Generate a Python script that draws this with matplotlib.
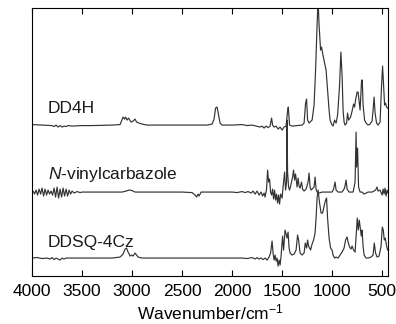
import matplotlib
matplotlib.use("Agg")
import matplotlib.pyplot as plt
import numpy as np

plt.rcParams['font.family'] = ['Liberation Sans', 'DejaVu Sans']
plt.rcParams['mathtext.fontset'] = 'custom'
plt.rcParams['mathtext.rm'] = 'Liberation Sans'
plt.rcParams['mathtext.it'] = 'Liberation Sans:italic'

# spectra: wavenumber (cm-1) and relative intensity above own baseline
dd4h_w = [4000, 3900, 3800, 3780, 3760, 3740, 3720, 3700, 3680, 3660, 3640, 3600, 3500, 3400, 3200, 3120,
          3090, 3075, 3065, 3050, 3035, 3010, 2990, 2970, 2955, 2930, 2900, 2850, 2500, 2250, 2200, 2180,
          2165, 2150, 2135, 2120, 2100, 2000, 1900, 1850, 1800, 1760, 1720, 1700, 1680, 1660, 1640, 1620,
          1605, 1595, 1580, 1560, 1540, 1520, 1500, 1480, 1460, 1445, 1438, 1425, 1400, 1350, 1300, 1280,
          1265, 1255, 1245, 1230, 1200, 1180, 1165, 1150, 1140, 1130, 1115, 1105, 1095, 1075, 1060, 1045,
          1030, 1020, 1005, 990, 975, 960, 945, 925, 912, 900, 890, 880, 870, 855, 845, 835, 815, 800,
          785, 775, 765, 750, 740, 720, 705, 698, 690, 675, 660, 640, 620, 600, 590, 580, 570, 555, 540,
          520, 505, 495, 485, 475, 465, 455, 445, 440]
dd4h_i = [0.5, 0, -0.5, -1.5, 0, -2, -0.5, -2, -1, -1.5, -0.5, -1, -0.5, -0.5, 0, 0.5,
          8, 6, 8, 5, 7, 3, 4, 6, 3, 2, 1, 0, 0, 0, 1, 6,
          17, 18, 10, 2, 0, 0, 0.5, -0.5, 0, -1, -2, -1, -3, -1, -2.5, -1,
          7, 0, -2, -1, -4, -2, -5, -2, -1, 14, 18, 0, -1, -0.5, 0, 2,
          22, 26, 5, 2, 5, 20, 55, 100, 125, 100, 75, 78, 72, 62, 55, 35,
          15, 5, 1, -1, 5, 2, 10, 40, 73, 50, 15, 3, 0, 2, 12, 5, 8, 14,
          21, 18, 25, 33, 33, 15, 45, 45, 20, 5, 2, 0, 1, 4, 15, 28, 12, 2, 0,
          3, 40, 59, 40, 20, 22, 18, 17, 17]

nvc_w = [4000, 3990, 3975, 3960, 3945, 3930, 3915, 3900, 3885, 3870, 3855, 3840, 3825, 3810, 3795, 3780,
         3765, 3750, 3735, 3720, 3705, 3690, 3675, 3660, 3645, 3630, 3615, 3600, 3580, 3550, 3520, 3500,
         3300, 3100, 3060, 3030, 3000, 2970, 2900, 2500, 2400, 2370, 2355, 2340, 2330, 2310, 2200, 2000,
         1950, 1900, 1870, 1840, 1810, 1790, 1770, 1750, 1730, 1710, 1695, 1680, 1670, 1655, 1645, 1635,
         1625, 1615, 1605, 1595, 1585, 1575, 1565, 1555, 1545, 1535, 1525, 1515, 1500, 1490, 1475, 1465,
         1455, 1450, 1445, 1435, 1425, 1410, 1395, 1385, 1375, 1365, 1350, 1340, 1330, 1320, 1305, 1295,
         1280, 1260, 1240, 1230, 1220, 1210, 1180, 1170, 1160, 1150, 1130, 1100, 1000, 985, 970, 960,
         940, 900, 875, 860, 850, 830, 790, 770, 760, 755, 745, 735, 720, 700, 680, 660, 640, 600,
         580, 565, 550, 540, 520, 500, 490, 480, 470, 460, 450, 440]
nvc_i = [0, 1, -2, 2, -3, 3, -2, 4, -4, 3, -3, 2, -2, 1, -3, 4,
         -5, 5, -6, 3, -5, 4, -4, 3, -4, 2, -2, 1, -1, 0.5, -0.5, 0,
         0, 0, 1, 2, 1.5, 0, 0, 0, -0.5, -3, -5, -2, -4, 0, 0, 0,
         -0.5, 0.5, -0.5, 0.5, -1, 1, -2, 1, -3, 0, -4, -1, -5, 3, 22, 10,
         13, 0, -3, 3, -7, 2, -8, -2, -11, -3, -12, -2, -6, 5, 20, 2,
         10, 72, 20, 5, 2, 8, 15, 22, 12, 18, 5, 14, 6, 4, 10, 3,
         1, 3, 10, 19, 5, 2, 5, 15, 3, 0, -1, 0, 0, 3, 10, 2,
         0, 0, 4, 12, 3, 0, 0, 10, 60, 25, 44, 5, 0, 0, -2, -1, 0, 0,
         1, 2, 5, 1, 2, -3, 3, -2, 4, -4, 2, -1]

ddsq_w = [4000, 3950, 3900, 3850, 3820, 3800, 3780, 3760, 3740, 3720, 3700, 3680, 3660, 3600, 3400, 3200,
          3120, 3090, 3070, 3055, 3040, 3020, 3005, 2990, 2970, 2955, 2940, 2900, 2500, 2000, 1900, 1850,
          1800, 1770, 1750, 1730, 1710, 1690, 1670, 1650, 1630, 1615, 1600, 1590, 1580, 1570, 1560, 1550,
          1540, 1530, 1520, 1510, 1495, 1485, 1470, 1460, 1450, 1440, 1430, 1420, 1400, 1380, 1360, 1345,
          1335, 1320, 1300, 1280, 1268, 1255, 1245, 1235, 1215, 1200, 1185, 1170, 1160, 1150, 1140, 1125,
          1110, 1095, 1080, 1065, 1055, 1045, 1030, 1015, 1000, 990, 975, 960, 940, 920, 900, 880,
          865, 850, 840, 825, 810, 800, 785, 770, 755, 748, 738, 728, 718, 708, 700, 690, 680, 660,
          640, 610, 590, 578, 565, 550, 530, 510, 498, 488, 478, 468, 455, 445, 440]
ddsq_i = [0, 0.5, -0.5, 0, -1, 0.5, -1.5, 0, -1, -2, 0, -1, 0, 0, 0, 0,
          1, 4, 9, 10, 6, 2, 3, 2, 5, 3, 1, 0, 0, 0, 0, -0.5,
          0.5, -1, 0.5, -1, 0, -1.5, 0, -2, 1, 5, 17, 5, -2, 3, -3, 0,
          -8, -2, -7, 2, 22, 8, 28, 24, 20, 26, 10, 5, 3, 4, 8, 23,
          18, 5, 3, 5, 15, 10, 18, 12, 8, 14, 18, 25, 40, 60, 68, 55,
          45, 45, 52, 58, 60, 40, 20, 10, 8, 3, 0, 1, 0, 3, 6, 10,
          18, 21, 16, 11, 9, 12, 8, 6, 30, 40, 28, 38, 30, 22, 28, 12, 3, 0,
          0, 1, 3, 15, 5, 1, 2, 12, 31, 28, 18, 20, 12, 8, 8]

names = ['DD4H', '$\\it{N}$-vinylcarbazole', 'DDSQ-4Cz']
offsets = [151, 84, 18]
label_y = [163, 97, 29]

fig = plt.figure(figsize=(3.96, 3.24), dpi=100)
ax = fig.add_axes([0.081, 0.148, 0.899, 0.827])

col = '#333333'
ax.plot(dd4h_w, np.array(dd4h_i) + offsets[0], color=col, lw=0.85)
ax.plot(nvc_w, np.array(nvc_i) + offsets[1], color=col, lw=0.85)
ax.plot(ddsq_w, np.array(ddsq_i) + offsets[2], color=col, lw=0.85)

for n, yy in zip(names, label_y):
    ax.text(3840, yy, n, fontsize=12.5, color='#1a1a1a')

ax.set_xlim(4000, 440)
ax.set_ylim(0, 268)
ax.set_xticks(np.arange(4000, 499, -500))
ax.set_yticks([])
ax.tick_params(axis='x', direction='in', top=True, length=4, width=0.8, labelsize=12.5, pad=6)
for s in ax.spines.values():
    s.set_linewidth(0.8)
ax.set_xlabel('Wavenumber/cm$^{-1}$', fontsize=12.5, labelpad=2)

fig.savefig('out.png', dpi=100)
